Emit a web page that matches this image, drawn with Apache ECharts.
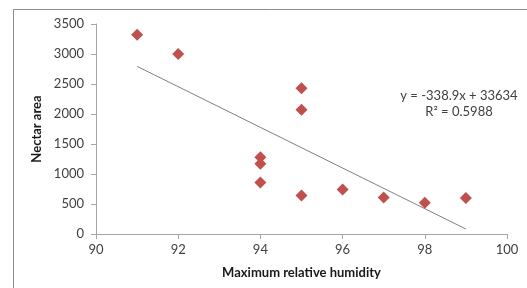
<!DOCTYPE html>
<html>
<head>
<meta charset="utf-8">
<script src="https://cdn.jsdelivr.net/npm/echarts@6/dist/echarts.min.js"></script>
<style>
  html, body { margin: 0; padding: 0; background: #fff; }
  #chart { width: 527px; height: 288px; }
</style>
</head>
<body>
<div id="chart"></div>
<script>
// humidity (%) vs nectar area
const humidity = [91, 92, 95, 95, 94, 94, 94, 95, 96, 97, 98, 99];
const nectarArea = [3320, 3000, 2430, 2070, 1280, 1170, 860, 640, 740, 610, 520, 600];

// linear trendline end points (y = -338.9x + 33634)
const trendX = [91, 99];
const trendY = [2794, 83];
const equationLines = ["y = -338.9x + 33634", "R\u00b2 = 0.5988"];

const xTicks = { min: 90, max: 100, interval: 2 };
const yTicks = { min: 0, max: 3500, interval: 500 };

const font = "Lato, 'Open Sans', sans-serif";
const chart = echarts.init(document.getElementById("chart"));

const option = {
  animation: false,
  textStyle: { fontFamily: font },
  grid: { left: 96, right: 20, top: 24, bottom: 54 },
  xAxis: {
    type: "value",
    min: xTicks.min,
    max: xTicks.max,
    interval: xTicks.interval,
    name: "Maximum relative humidity",
    nameLocation: "middle",
    nameGap: 32,
    nameTextStyle: { fontWeight: "bold", fontSize: 13, color: "#1a1a1a", fontFamily: font },
    axisLine: { lineStyle: { color: "#a6a6a6" } },
    axisTick: { show: true, length: 5, lineStyle: { color: "#a6a6a6" } },
    axisLabel: { color: "#404040", fontSize: 13, margin: 9, fontFamily: font },
    splitLine: { show: false }
  },
  yAxis: {
    type: "value",
    min: yTicks.min,
    max: yTicks.max,
    interval: yTicks.interval,
    name: "Nectar area",
    nameLocation: "middle",
    nameGap: 47,
    nameRotate: 90,
    nameTextStyle: { fontWeight: "bold", fontSize: 13, color: "#1a1a1a", fontFamily: font },
    axisLine: { show: true, lineStyle: { color: "#a6a6a6" } },
    axisTick: { show: true, length: 5, lineStyle: { color: "#a6a6a6" } },
    axisLabel: { color: "#404040", fontSize: 13, margin: 12, fontFamily: font, formatter: v => String(v) },
    splitLine: { show: false }
  },
  graphic: [
    {
      type: "rect",
      silent: true,
      shape: { x: 13.5, y: 9.5, width: 600, height: 400 },
      style: { fill: "none", stroke: "#8c8c8c", lineWidth: 1 }
    },
    {
      type: "text",
      silent: true,
      x: 459,
      y: 88,
      style: {
        text: equationLines.join("\n"),
        textAlign: "center",
        font: "13px " + font,
        fill: "#404040",
        lineHeight: 16
      }
    }
  ],
  series: [
    {
      type: "scatter",
      symbol: "diamond",
      symbolSize: 12,
      itemStyle: { color: "#c0504d", opacity: 1 },
      data: humidity.map((h, i) => [h, nectarArea[i]]),
      z: 3
    },
    {
      type: "line",
      data: trendX.map((x, i) => [x, trendY[i]]),
      symbol: "none",
      lineStyle: { color: "#7f7f7f", width: 1 },
      z: 2
    }
  ]
};

chart.setOption(option);
</script>
</body>
</html>
